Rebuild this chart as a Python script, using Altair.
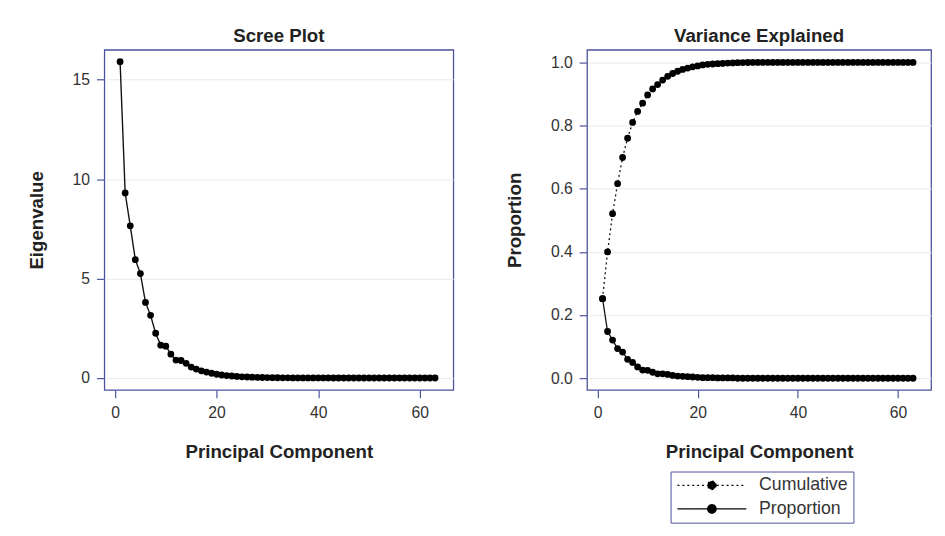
import altair as alt
import pandas as pd

# ---------------- data ----------------
components = list(range(1, 64))

eigenvalues = [
    15.9, 9.3, 7.65, 5.95, 5.25, 3.8, 3.15, 2.25, 1.65, 1.6,
    1.2, 0.9, 0.88, 0.74, 0.55, 0.45, 0.36, 0.3, 0.24, 0.19,
    0.15, 0.12, 0.1, 0.08, 0.06, 0.05, 0.04, 0.03, 0.025, 0.02,
    0.015, 0.012, 0.01, 0.008, 0.006, 0.005, 0.004, 0.003, 0.003, 0.002,
    0.002, 0.002, 0.001, 0.001, 0.001, 0.001, 0.001, 0.0, 0.0, 0.0,
    0.0, 0.0, 0.0, 0.0, 0.0, 0.0, 0.0, 0.0, 0.0, 0.0,
    0.0, 0.0, 0.0,
]

proportion = [
    0.252, 0.148, 0.121, 0.094, 0.083, 0.060, 0.050, 0.036, 0.026, 0.025,
    0.019, 0.014, 0.014, 0.012, 0.009, 0.007, 0.006, 0.005, 0.004, 0.003,
    0.002, 0.002, 0.002, 0.001, 0.001, 0.001, 0.001, 0.0, 0.0, 0.0,
    0.0, 0.0, 0.0, 0.0, 0.0, 0.0, 0.0, 0.0, 0.0, 0.0,
    0.0, 0.0, 0.0, 0.0, 0.0, 0.0, 0.0, 0.0, 0.0, 0.0,
    0.0, 0.0, 0.0, 0.0, 0.0, 0.0, 0.0, 0.0, 0.0, 0.0,
    0.0, 0.0, 0.0,
]

cumulative = [
    0.252, 0.400, 0.521, 0.616, 0.699, 0.760, 0.810, 0.845, 0.871, 0.897,
    0.916, 0.930, 0.944, 0.956, 0.965, 0.972, 0.978, 0.982, 0.986, 0.989,
    0.992, 0.994, 0.995, 0.996, 0.997, 0.998, 0.9986, 0.9991, 0.9995, 0.9998,
    0.9999, 1.0, 1.0, 1.0, 1.0, 1.0, 1.0, 1.0, 1.0, 1.0,
    1.0, 1.0, 1.0, 1.0, 1.0, 1.0, 1.0, 1.0, 1.0, 1.0,
    1.0, 1.0, 1.0, 1.0, 1.0, 1.0, 1.0, 1.0, 1.0, 1.0,
    1.0, 1.0, 1.0,
]

series_names = ["Cumulative", "Proportion"]
x_ticks = [0, 20, 40, 60]
eigen_ticks = [0, 5, 10, 15]
prop_ticks = [0.0, 0.2, 0.4, 0.6, 0.8, 1.0]

# ---------------- tables ----------------
df_scree = pd.DataFrame({"pc": components, "eigen": eigenvalues})
df_var = pd.DataFrame({
    "pc": components + components,
    "value": cumulative + proportion,
    "series": [series_names[0]] * len(components) + [series_names[1]] * len(components),
})

FRAME = "#4a529c"
FONT = "Liberation Sans"

x_scale = alt.Scale(domain=[-2.1, 66.6], nice=False, zero=False)
x_enc = alt.X("pc:Q", scale=x_scale,
              axis=alt.Axis(values=x_ticks, title="Principal Component", grid=False,
                            titlePadding=23, labelPadding=7))

# ---------------- left: scree plot ----------------
scree_base = alt.Chart(df_scree).encode(
    x=x_enc,
    y=alt.Y("eigen:Q", scale=alt.Scale(domain=[-0.6, 16.5], nice=False, zero=False),
            axis=alt.Axis(values=eigen_ticks, title="Eigenvalue", titlePadding=26, labelPadding=7)),
)
scree = alt.layer(
    scree_base.mark_line(color="#111111", strokeWidth=1.4),
    scree_base.mark_point(filled=True, size=48, color="black", opacity=1),
).properties(width=355, height=346, title="Scree Plot")

# ---------------- right: variance explained ----------------
var_base = alt.Chart(df_var).encode(
    x=x_enc,
    y=alt.Y("value:Q", scale=alt.Scale(domain=[-0.037, 1.04], nice=False, zero=False),
            axis=alt.Axis(values=prop_ticks, format=".1f", title="Proportion",
                          titlePadding=26, labelPadding=7)),
)
# legend glyph: a line with a dot in the middle
legend_path = "M-5,0L5,0M0.62,0A0.62,0.62,0,1,1,-0.62,0A0.62,0.62,0,1,1,0.62,0Z"
var_lines = var_base.mark_line(color="#111111", strokeWidth=1.3).encode(
    strokeDash=alt.StrokeDash(
        "series:N",
        scale=alt.Scale(domain=series_names, range=[[2, 3], [1, 0]]),
        legend=alt.Legend(
            title=None, orient="none", legendX=576, legendY=429,
            symbolType=legend_path, symbolSize=196, symbolOffset=28,
            symbolFillColor="black", symbolStrokeColor="black", symbolStrokeWidth=1.2,
            labelFontSize=18, labelColor="#333333", labelFont=FONT, labelOffset=39,
            strokeColor=FRAME, padding=5, rowPadding=6, fillColor="white",
        ),
    )
)
var_points = var_base.mark_point(filled=True, size=48, color="black", opacity=1).encode(
    detail="series:N"
)
variance = alt.layer(var_lines, var_points).properties(
    width=350, height=346, title="Variance Explained"
)

chart = alt.hconcat(scree, variance, spacing=52).properties(
    padding={"left": 19, "top": 14, "right": 5, "bottom": 5},
    background="white",
).configure_view(
    stroke=FRAME, strokeWidth=1.3
).configure_axis(
    domain=False, tickColor=FRAME, tickSize=8, tickWidth=1.2,
    labelFont=FONT, labelFontSize=16, labelColor="#333333", labelPadding=4,
    titleFont=FONT, titleFontSize=19, titleFontWeight="bold", titleColor="#222222",
).configure_axisY(
    grid=True, gridColor="#e9e9e9", gridWidth=1
).configure_title(
    font=FONT, fontSize=19, fontWeight="bold", color="#222222", offset=4, anchor="middle"
)

chart.save("out.html", embed_options={"renderer": "svg", "actions": False})
